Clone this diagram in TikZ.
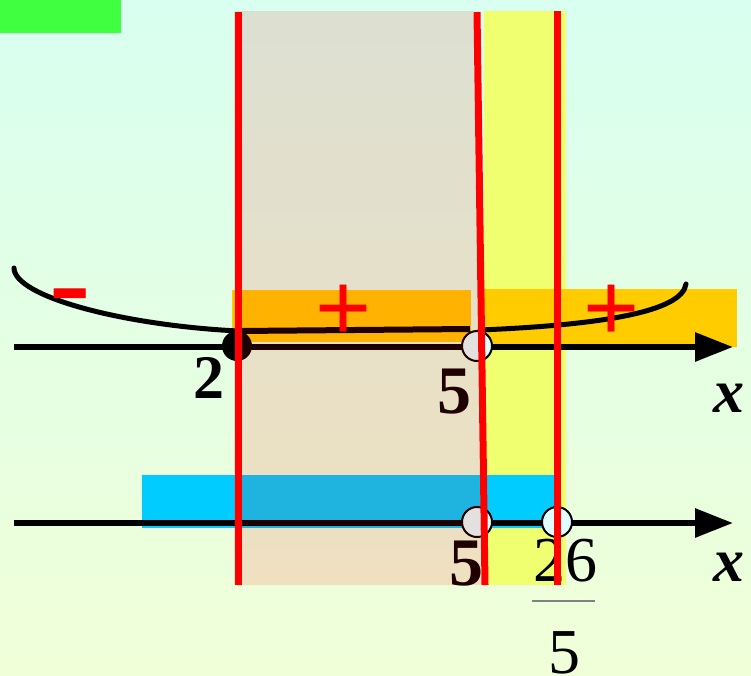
\documentclass[tikz,border=0pt]{standalone}
\usepackage{fontspec}
\usetikzlibrary{arrows.meta}
\newfontfamily\tms{Liberation Serif}
\newfontfamily\ars{Liberation Sans}
\definecolor{bgtop}{RGB}{216,255,240}
\definecolor{bgbot}{RGB}{240,255,216}
\definecolor{grn}{RGB}{64,255,64}
\definecolor{ylw}{RGB}{240,255,112}
\definecolor{org}{RGB}{255,204,0}
\definecolor{blu}{RGB}{0,204,255}
\definecolor{opn}{RGB}{224,255,255}
\begin{document}
\begin{tikzpicture}[x=1pt,y=-1pt,
  axisline/.style={line width=6pt,-{Triangle[length=38pt,width=28pt]}},
  curveline/.style={line width=5pt,line cap=round},
  redline/.style={red,line width=7pt},
  opendot/.style={circle,draw=black,line width=2pt,fill=opn,minimum size=30pt,inner sep=0pt},
  fulldot/.style={circle,fill=black,minimum size=30pt,inner sep=0pt},
  boldnum/.style={inner sep=0pt,font=\tms\bfseries\fontsize{68}{68}\selectfont},
  plainnum/.style={inner sep=0pt,font=\tms\fontsize{64}{64}\selectfont},
  varx/.style={inner sep=0pt,font=\tms\bfseries\itshape\fontsize{62}{62}\selectfont},
  signmark/.style={inner sep=0pt,text=red,font=\ars\fontsize{96}{96}\selectfont}]
\useasboundingbox (0,0) rectangle (751,675);
\shade[top color=bgtop,bottom color=bgbot] (0,0) rectangle (751,675);
\fill[grn] (0,0) rectangle (121,33);
% yellow band
\fill[ylw] (484,11) rectangle (566,585);
% orange bands
\fill[org] (232,290) rectangle (471,342);
\fill[org] (484,289) rectangle (737,347);
% blue band
\fill[blu] (142,475) rectangle (555,528);
% axes
\coordinate (a1s) at (14,347);
\coordinate (a1e) at (733,347);
\coordinate (a2s) at (14,523);
\coordinate (a2e) at (733,523);
\draw[axisline] (a1s) -- (a1e);
\draw[axisline] (a2s) -- (a2e);
% curve
\coordinate (c0) at (14,268);
\coordinate (c1) at (238,331);
\coordinate (c2) at (470,329);
\coordinate (c3) at (480,330);
\coordinate (c4) at (686,284);
\draw[curveline] (c0) .. controls (14,296) and (120,325) .. (c1);
\draw[line width=6pt] (c1) -- (c2);
\draw[curveline] (c3) .. controls (600,325) and (682,312) .. (c4);
% signs
\node[signmark] (minus) at (70,306.5) {\scalebox{1}[1.4]{\ars\bfseries\fontsize{64}{64}\selectfont\char"2212}};
\node[signmark] (plusA) at (343.5,312.5) {+};
\node[signmark] (plusB) at (612,312.5) {+};
% points
\node[fulldot] (p2) at (237,346) {};
\node[opendot] (p5a) at (477,346) {};
\node[opendot] (p5b) at (477,522) {};
\node[opendot] (p26) at (557,522) {};
% labels
\node[boldnum,font=\tms\bfseries\fontsize{62}{62}\selectfont] (l2) at (209,378) {2};
\node[boldnum] (l5a) at (454.5,391.5) {5};
\node[varx] (x1) at (728.5,398.5) {x};
\node[boldnum] (l5b) at (466,563.5) {5};
\node[plainnum] (l26) at (565,561) {26};
\coordinate (fb1) at (532,601);
\coordinate (fb2) at (595,601);
\draw[gray,line width=1.5pt] (fb1) -- (fb2);
\node[plainnum] (l5c) at (564,653) {5};
\node[varx] (x2) at (729,567) {x};
% tinted overlay
\fill[red,opacity=0.12] (234,11) -- (473.5,11) -- (481,585) -- (234,585) -- cycle;
% red vertical lines
\coordinate (r1t) at (238,12);
\coordinate (r1b) at (238,585);
\coordinate (r2t) at (477,12);
\coordinate (r2b) at (485,585);
\coordinate (r3t) at (557.5,11);
\coordinate (r3b) at (557.5,585);
\draw[redline] (r1t) -- (r1b);
\draw[redline] (r2t) -- (r2b);
\draw[redline] (r3t) -- (r3b);
\end{tikzpicture}
\end{document}
